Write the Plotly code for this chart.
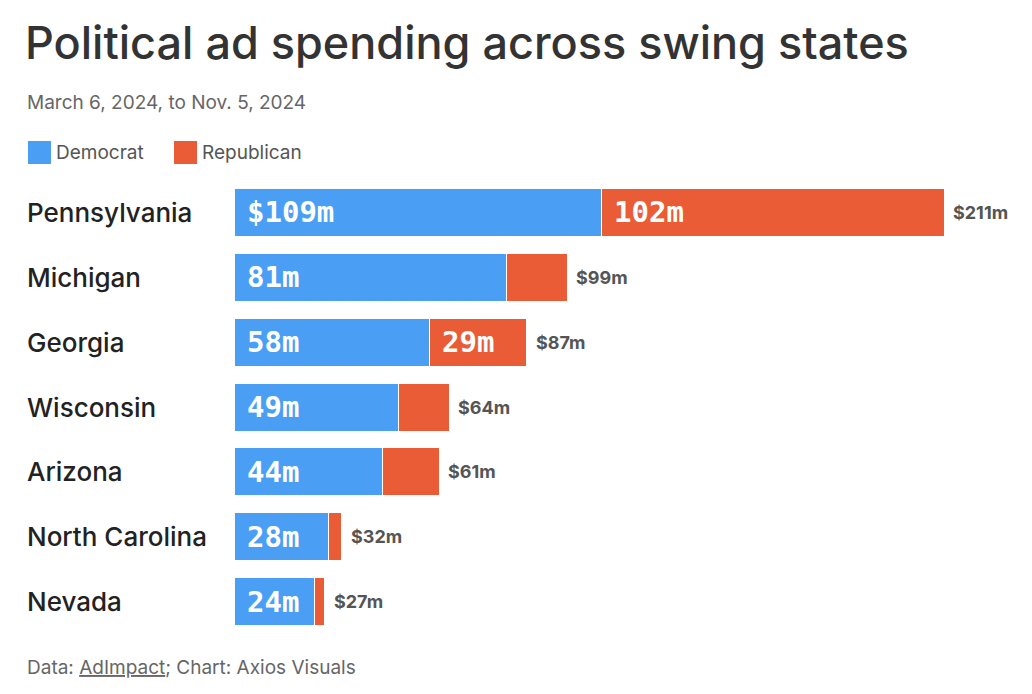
import plotly.graph_objects as go

states = ["Pennsylvania", "Michigan", "Georgia", "Wisconsin", "Arizona", "North Carolina", "Nevada"]
democrat = [109, 81, 58, 49, 44, 28, 24]
republican = [102, 18, 29, 15, 17, 4, 3]
totals = [211, 99, 87, 64, 61, 32, 27]
dem_labels = ["$109m", "81m", "58m", "49m", "44m", "28m", "24m"]
rep_labels = ["102m", "", "29m", "", "", "", ""]
legend_names = ["Democrat", "Republican"]

BLUE = "#4a9ff5"
RED = "#e95c35"
OFF = 8  # page body margin
W, H = 1032 - 2 * OFF, 694 - 2 * OFF
L, R, T, B = 234 - OFF, 0, 180 - OFF, 60 - OFF
pw = W - L - R
ph = H - T - B


def px(x):
    return (x - OFF - L) / pw


def py(y):
    return 1 - (y - OFF - T) / ph


fig = go.Figure()
fig.add_trace(go.Bar(y=states, x=democrat, orientation="h", name="Democrat",
                     marker=dict(color=BLUE, line=dict(color="white", width=1)), width=0.74))
fig.add_trace(go.Bar(y=states, x=republican, orientation="h", name="Republican",
                     marker=dict(color=RED, line=dict(color="white", width=1)), width=0.74))

ann = []
mono = "DejaVu Sans Mono"
for s, d, t, dl, rl in zip(states, democrat, totals, dem_labels, rep_labels):
    ann.append(dict(x=0, y=s, text=f"<b>{dl}</b>", xanchor="left", xshift=11, showarrow=False,
                    font=dict(family=mono, size=29, color="white")))
    if rl:
        ann.append(dict(x=d, y=s, text=f"<b>{rl}</b>", xanchor="left", xshift=11, showarrow=False,
                        font=dict(family=mono, size=29, color="white")))
    ann.append(dict(x=t, y=s, text=f"<b>${t}m</b>", xanchor="left", xshift=7, showarrow=False,
                    font=dict(family="Inter", size=18, color="#555")))
    ann.append(dict(xref="paper", x=px(25), y=s, text=s, xanchor="left", showarrow=False,
                    font=dict(family="Inter", size=26, color="#222", weight=500)))

ann.append(dict(xref="paper", yref="paper", x=px(23), y=py(42),
                text="Political ad spending across swing states", xanchor="left", yanchor="middle",
                showarrow=False, font=dict(family="Inter", size=45, color="#333", weight=500)))
ann.append(dict(xref="paper", yref="paper", x=px(25), y=py(103),
                text="March 6, 2024, to Nov. 5, 2024", xanchor="left", yanchor="middle",
                showarrow=False, font=dict(family="Inter", size=19, color="#666")))
ann.append(dict(xref="paper", yref="paper", x=px(25), y=py(667),
                text="Data: <u>AdImpact</u>; Chart: Axios Visuals", xanchor="left", yanchor="middle",
                showarrow=False, font=dict(family="Inter", size=19, color="#666")))

# custom legend with large swatches
shapes = []
for name, col, x0, tx in zip(legend_names, [BLUE, RED], [28, 174], [54, 200]):
    shapes.append(dict(type="rect", xref="paper", yref="paper", x0=px(x0), x1=px(x0 + 23),
                       y0=py(164), y1=py(141), fillcolor=col, line=dict(width=0)))
    ann.append(dict(xref="paper", yref="paper", x=px(tx), y=py(152), text=name, xanchor="left",
                    yanchor="middle", showarrow=False, font=dict(family="Inter", size=19, color="#555")))

fig.update_layout(
    width=W, height=H, barmode="stack", bargap=0.26,
    margin=dict(l=L, r=R, t=T, b=B),
    plot_bgcolor="white", paper_bgcolor="white",
    xaxis=dict(range=[0, 237 - OFF * 237 / 798], visible=False),
    yaxis=dict(autorange="reversed", showticklabels=False, showgrid=False, zeroline=False),
    annotations=ann, shapes=shapes, showlegend=False,
)

fig.write_html("out.html")
